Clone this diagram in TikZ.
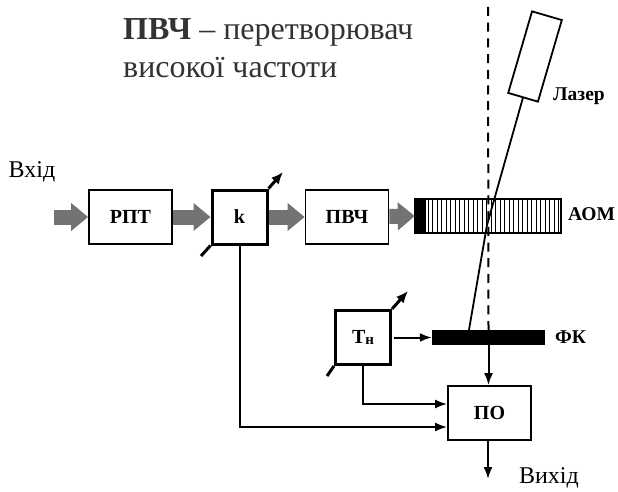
\documentclass[tikz,border=0pt]{standalone}
\usepackage{fontspec}
\setmainfont{Liberation Serif}
\usetikzlibrary{arrows.meta}

\tikzset{
  block/.style={draw,line width=1.8pt,inner sep=0pt,minimum width=83pt,minimum height=54pt,font=\fontsize{20}{20}\selectfont\bfseries},
  gainblock/.style={block,line width=3pt,minimum width=55pt},
  tag/.style={font=\fontsize{19.5}{19.5}\selectfont\bfseries,inner sep=0pt},
  handwritten/.style={font=\fontsize{24}{24}\selectfont,inner sep=0pt},
  headline/.style={font=\fontsize{32}{32}\selectfont,inner sep=0pt,anchor=base west,text=black!80},
  feed/.style={draw=black!55,line width=15pt,-{Triangle[length=17pt,width=27pt]},color=black!55},
  signal/.style={line width=2pt,-{Latex[length=12pt,width=9pt]}},
  knob/.style={line width=3pt},
  knobtip/.style={knob,-{Latex[length=12pt,width=10pt]}}
}

\begin{document}
\begin{tikzpicture}[x=1pt,y=-1pt]
  \useasboundingbox (0,0) rectangle (618,492);

  \node[headline] (title1) at (123,40) {\textbf{ПВЧ} -- перетворювач};
  \node[headline] (title2) at (123,78) {високої частоти};
  \node[handwritten] (vhid) at (32,172) {Вхід};
  \node[handwritten] (vyhid) at (549,478) {Вихід};

  \node[block] (rpt) at (130.5,217) {РПТ};
  \node[gainblock] (k) at (239.5,217) {k};
  \node[block] (pvch) at (347,217) {ПВЧ};
  \node[block] (po) at (489.5,413) {ПО};
  \node[gainblock] (tn) at (363,337.5) {Т\raisebox{-1pt}{\fontsize{15}{15}\selectfont н}};

  \node[draw,line width=1.8pt,inner sep=0pt,minimum width=146pt,minimum height=34pt] (aom) at (488,216) {};
  \foreach \i in {0,...,29}
    \draw[line width=.9pt] (428+\i*4.5,199) -- (428+\i*4.5,233);
  \node[fill=black,inner sep=0pt,minimum width=11pt,minimum height=34pt] (aomblack) at (420.5,216) {};
  \node[fill=black,inner sep=0pt,minimum width=113pt,minimum height=15pt] (fk) at (488.5,337.5) {};
  \node[draw,line width=1.8pt,fill=white,inner sep=0pt,minimum width=85pt,minimum height=31pt,rotate=73.7] (laser) at (535,56.5) {};

  \node[tag,anchor=west] (lasertag) at (553,96) {Лазер};
  \node[tag,anchor=west] (aomtag) at (568,214) {АОМ};
  \node[tag,anchor=west] (fktag) at (555,337) {ФК};

  \coordinate (vhidend) at (54,217);
  \coordinate (dashtop) at (488,7);
  \coordinate (bend) at (487,225);
  \coordinate (kout) at (283,172);
  \coordinate (kin) at (201,256);
  \coordinate (tnout) at (408,291);
  \coordinate (tnin) at (327,376);
  \coordinate (vyhidend) at (488,479);

  \draw[feed] (vhidend) -- (rpt);
  \draw[feed] (rpt) -- (k);
  \draw[feed] (k) -- (pvch);
  \draw[feed] (pvch) -- (aomblack);

  \draw[line width=2pt,dash pattern=on 9pt off 6.7pt] (dashtop) -- (fk.north);
  \draw[line width=1.8pt] (laser.west) -- (bend) -- (fk.north -| 469,0);

  \draw[knobtip] (k.north east) -- (kout);
  \draw[knob] (k.south west) -- (kin);
  \draw[knobtip] (tn.north east) -- (tnout);
  \draw[knob] (tn.south west) -- (tnin);

  \draw[signal,shorten <=2pt] (tn) -- (fk);
  \draw[signal] (fk.south) -- (fk.south |- po.north);
  \draw[signal] (tn.south) |- ([yshift=9pt]po.west);
  \draw[signal] (k.south) |- ([yshift=-14pt]po.west);
  \draw[signal] (po.south -| vyhidend) -- (vyhidend);
\end{tikzpicture}
\end{document}
